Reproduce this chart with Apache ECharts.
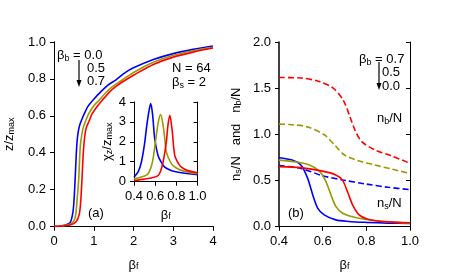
<!DOCTYPE html>
<html><head><meta charset="utf-8">
<script src="https://cdn.jsdelivr.net/npm/echarts@6/dist/echarts.min.js"></script>
<style>html,body{margin:0;padding:0;background:#fff}#c{width:471px;height:279px}</style>
</head><body><div id="c"></div>
<script>
// ---------- Panel (a): z/zmax vs beta_f ----------
const aBlueX  = [0,0.2,0.4,0.47,0.5,0.53,0.57,0.6,0.64,0.7,0.76,0.85,1.0,1.2,1.35,1.56,1.8,2.0,2.5,3.0,3.5,4.0];
const aBlueY  = [0,0.004,0.02,0.07,0.13,0.25,0.43,0.50,0.545,0.58,0.61,0.65,0.69,0.735,0.765,0.795,0.835,0.86,0.905,0.937,0.96,0.978];
const aOliveX = [0,0.2,0.4,0.5,0.55,0.59,0.62,0.66,0.7,0.74,0.8,0.87,1.0,1.14,1.3,1.48,1.69,2.0,2.5,3.0,3.5,4.0];
const aOliveY = [0,0.003,0.012,0.03,0.07,0.17,0.25,0.43,0.5,0.54,0.575,0.61,0.655,0.686,0.725,0.76,0.79,0.835,0.89,0.928,0.953,0.972];
const aRedX   = [0,0.2,0.4,0.55,0.64,0.69,0.74,0.78,0.82,0.9,0.956,1.1,1.22,1.4,1.56,1.77,2.0,2.5,3.0,3.5,4.0];
const aRedY   = [0,0.002,0.008,0.025,0.07,0.2,0.41,0.5,0.54,0.58,0.61,0.655,0.686,0.73,0.76,0.79,0.82,0.878,0.918,0.945,0.967];

// ---------- Inset: chi_z/zmax vs beta_f ----------
const iBlueX  = [0.4,0.44,0.47,0.5,0.517,0.54,0.558,0.575,0.596,0.627,0.66,0.69,0.74,0.785,0.9,1.0];
const iBlueY  = [0.22,0.5,0.98,1.9,2.66,3.5,3.92,3.4,2.15,1.31,0.95,0.72,0.58,0.5,0.4,0.34];
const iOliveX = [0.4,0.5,0.533,0.56,0.58,0.611,0.63,0.65,0.67,0.69,0.706,0.754,0.8,0.848,0.92,1.0];
const iOliveY = [0.13,0.28,0.39,0.7,1.14,2.32,3.0,3.37,3.0,2.2,1.48,0.89,0.68,0.56,0.46,0.39];
const iRedX   = [0.4,0.5,0.58,0.627,0.65,0.675,0.706,0.72,0.738,0.76,0.785,0.82,0.848,0.9,1.0];
const iRedY   = [0.05,0.12,0.2,0.3,0.5,0.98,2.0,2.8,3.33,2.6,1.31,0.9,0.72,0.56,0.44];

// ---------- Panel (b): n_s/N (solid) and n_b/N (dashed) ----------
const bsBlueX  = [0.4,0.46,0.5,0.53,0.555,0.577,0.607,0.66,0.72,0.8,0.9,1.0];
const bsBlueY  = [0.746,0.72,0.667,0.53,0.34,0.2,0.126,0.072,0.055,0.045,0.037,0.032];
const bsOliveX = [0.4,0.48,0.54,0.585,0.615,0.638,0.661,0.692,0.75,0.8,0.9,1.0];
const bsOliveY = [0.72,0.70,0.667,0.6,0.487,0.343,0.216,0.144,0.097,0.075,0.05,0.035];
const bsRedX   = [0.4,0.5,0.6,0.66,0.69,0.714,0.737,0.767,0.8,0.85,0.9,1.0];
const bsRedY   = [0.649,0.638,0.6,0.559,0.505,0.376,0.235,0.126,0.085,0.06,0.05,0.04];
const bbBlueX  = [0.4,0.5,0.6,0.69,0.8,0.9,1.0];
const bbBlueY  = [0.66,0.63,0.55,0.505,0.46,0.425,0.40];
const bbOliveX = [0.4,0.45,0.53,0.61,0.656,0.70,0.76,0.84,0.92,1.0];
const bbOliveY = [1.11,1.105,1.08,0.99,0.88,0.775,0.715,0.667,0.62,0.575];
const bbRedX   = [0.4,0.5,0.58,0.648,0.694,0.725,0.748,0.779,0.84,0.916,1.0];
const bbRedY   = [1.615,1.61,1.575,1.50,1.37,1.19,1.045,0.92,0.83,0.765,0.685];

const BLUE = '#0000ff', OLIVE = '#999900', RED = '#ff0000';
const FONT = "'Liberation Sans', Arial, sans-serif";
const FS = 13;

function zip(xs, ys) { return xs.map((x, i) => [x, ys[i]]); }

function line(xs, ys, color, xi, yi, dashed) {
  return {
    type: 'line', xAxisIndex: xi, yAxisIndex: yi, data: zip(xs, ys),
    showSymbol: false, smooth: 0.3, animation: false,
    lineStyle: { color: color, width: 1.6, type: dashed ? [6, 3] : 'solid' },
    z: 3
  };
}

const sub = { fontSize: 9, verticalAlign: 'bottom', lineHeight: 9, fontFamily: FONT, color: '#000' };
const axLine = (w) => ({ show: true, lineStyle: { color: '#000', width: w || 1 } });

function mainX(grid, min, max, interval, fmt, name) {
  return {
    type: 'value', gridIndex: grid, min: min, max: max, interval: interval, position: 'bottom',
    axisLine: axLine(), axisTick: { show: true, length: 4, lineStyle: { color: '#000' } },
    splitLine: { show: false },
    axisLabel: { color: '#000', fontSize: FS, fontFamily: FONT, margin: 8, formatter: fmt },
    name: name, nameLocation: 'middle', nameGap: 32,
    nameTextStyle: { color: '#000', fontSize: FS, fontFamily: FONT, rich: { s: sub } }
  };
}
function topX(grid, min, max, interval) {
  return {
    type: 'value', gridIndex: grid, min: min, max: max, interval: interval, position: 'top',
    axisLine: axLine(), axisTick: { show: true, inside: true, length: 4, lineStyle: { color: '#000' } },
    splitLine: { show: false }, axisLabel: { show: false }
  };
}
function mainY(grid, min, max, interval, fmt, name, gap, lw) {
  return {
    type: 'value', gridIndex: grid, min: min, max: max, interval: interval, position: 'left',
    axisLine: axLine(lw), axisTick: { show: true, length: 4, lineStyle: { color: '#000' } },
    splitLine: { show: false },
    axisLabel: { color: '#000', fontSize: FS, fontFamily: FONT, margin: 8, formatter: fmt },
    name: name, nameLocation: 'middle', nameGap: gap, nameRotate: 90,
    nameTextStyle: { color: '#000', fontSize: FS, fontFamily: FONT, rich: { s: sub } }
  };
}
function rightY(grid, min, max, interval) {
  return {
    type: 'value', gridIndex: grid, min: min, max: max, interval: interval, position: 'right',
    axisLine: axLine(), axisTick: { show: true, inside: true, length: 4, lineStyle: { color: '#000' } },
    splitLine: { show: false }, axisLabel: { show: false }
  };
}

const f1 = v => v.toFixed(1);
const f0 = v => v.toFixed(0);

function txt(x, y, text) {
  return {
    type: 'text', x: x, y: y, z: 10,
    style: { text: text, fill: '#000', font: FS + 'px ' + FONT, rich: { s: sub }, lineHeight: 15 }
  };
}
function arrow(x, y1, y2) {
  return {
    type: 'group', z: 10, children: [
      { type: 'line', shape: { x1: x, y1: y1, x2: x, y2: y2 - 5 }, style: { stroke: '#000', lineWidth: 1.2 } },
      { type: 'polygon', shape: { points: [[x - 2.5, y2 - 7], [x + 2.5, y2 - 7], [x, y2]] }, style: { fill: '#000' } }
    ]
  };
}

const chart = echarts.init(document.getElementById('c'), null, { renderer: 'canvas' });
chart.setOption({
  backgroundColor: '#fff',
  animation: false,
  grid: [
    { left: 54, top: 42, width: 159, height: 184.5 },
    { left: 279, top: 42, width: 131, height: 184.5 },
    { left: 134, top: 102, width: 63.5, height: 79.5 }
  ],
  xAxis: [
    mainX(0, 0, 4, 1, f0, 'β{s|f}'),
    topX(0, 0, 4, 1),
    mainX(1, 0.4, 1.0, 0.2, f1, 'β{s|f}'),
    topX(1, 0.4, 1.0, 0.2),
    Object.assign(mainX(2, 0.4, 1.0, 0.2, f1, 'β{s|f}'), { nameGap: 27 }),
    topX(2, 0.4, 1.0, 0.2)
  ],
  yAxis: [
    mainY(0, 0, 1, 0.2, f1, 'z/z{s|max}', 38),
    rightY(0, 0, 1, 0.2),
    mainY(1, 0, 2, 0.5, f1, 'n{s|s}/N   and   n{s|b}/N', 36, 1.5),
    rightY(1, 0, 2, 0.5),
    mainY(2, 0, 4, 1, f0, 'χ{s|z}/z{s|max}', 20),
    rightY(2, 0, 4, 1)
  ],
  series: [
    line(aBlueX, aBlueY, BLUE, 0, 0),
    line(aOliveX, aOliveY, OLIVE, 0, 0),
    line(aRedX, aRedY, RED, 0, 0),
    line(bbRedX, bbRedY, RED, 2, 2, true),
    line(bbOliveX, bbOliveY, OLIVE, 2, 2, true),
    line(bbBlueX, bbBlueY, BLUE, 2, 2, true),
    line(bsBlueX, bsBlueY, BLUE, 2, 2),
    line(bsOliveX, bsOliveY, OLIVE, 2, 2),
    line(bsRedX, bsRedY, RED, 2, 2),
    line(iBlueX, iBlueY, BLUE, 4, 4),
    line(iOliveX, iOliveY, OLIVE, 4, 4),
    line(iRedX, iRedY, RED, 4, 4)
  ],
  graphic: [
    txt(57, 48, 'β{s|b} = 0.0'),
    txt(87, 61, '0.5'),
    txt(87, 74, '0.7'),
    arrow(79, 60, 87),
    txt(172, 61, 'N = 64'),
    txt(172, 75, 'β{s|s} = 2'),
    txt(88, 206, '(a)'),
    txt(359, 52, 'β{s|b} = 0.7'),
    txt(382, 65, '0.5'),
    txt(382, 79, '0.0'),
    arrow(379, 62, 90),
    txt(377, 111, 'n{s|b}/N'),
    txt(377, 196, 'n{s|s}/N'),
    txt(288, 206, '(b)')
  ]
});
</script></body></html>
